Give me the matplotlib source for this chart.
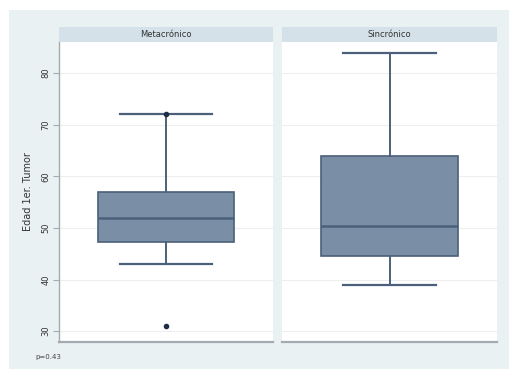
import matplotlib.pyplot as plt
from matplotlib.patches import Rectangle

# Edad al primer tumor por tipo de presentación
grupos = ['Metacrónico', 'Sincrónico']
q1 = [47.2, 44.5]
mediana = [52.0, 50.4]
q3 = [57.0, 64.0]
bigote_inf = [43.0, 39.0]
bigote_sup = [72.0, 83.8]
atipicos = [[31.0, 72.0], []]
y_ticks = [30, 40, 50, 60, 70, 80]
p_valor = 'p=0.43'

W, H = 510, 369
fig = plt.figure(figsize=(W / 100, H / 100), dpi=100)
fig.patch.set_facecolor('white')

fondo = '#e9f1f3'
franja = '#d4e1e8'
relleno = '#7a8fa6'
borde = '#4b607a'
gris = '#a3abb0'

fig.patches.append(Rectangle((9 / W, 0), 1, (H - 10) / H, transform=fig.transFigure,
                             facecolor=fondo, edgecolor='none', zorder=-10))


def px(x0, y0, x1, y1):
    return [x0 / W, 1 - y1 / H, (x1 - x0) / W, (y1 - y0) / H]


paneles = [(59, 273), (282, 497)]
for i, (x0, x1) in enumerate(paneles):
    # franja del título
    hx = fig.add_axes(px(x0, 27, x1, 42))
    hx.set_facecolor(franja)
    hx.set_xticks([])
    hx.set_yticks([])
    for s in hx.spines.values():
        s.set_visible(False)
    hx.text(0.5, 0.5, grupos[i], ha='center', va='center', fontsize=6, color='#333333',
            transform=hx.transAxes)

    ax = fig.add_axes(px(x0, 42, x1, 342))
    ax.set_facecolor('white')
    stats = [dict(med=mediana[i], q1=q1[i], q3=q3[i], whislo=bigote_inf[i],
                  whishi=bigote_sup[i], fliers=atipicos[i])]
    ax.bxp(stats, positions=[1], widths=0.64, capwidths=0.43, patch_artist=True,
           boxprops=dict(facecolor=relleno, edgecolor=borde, linewidth=1.2),
           medianprops=dict(color=borde, linewidth=1.8),
           whiskerprops=dict(color=borde, linewidth=1.4),
           capprops=dict(color=borde, linewidth=1.6),
           flierprops=dict(marker='o', markersize=3, markerfacecolor='#1f2d45',
                           markeredgecolor='#1f2d45'))
    ax.set_xlim(0.5, 1.5)
    ax.set_ylim(27.9, 86.0)
    ax.set_xticks([])
    ax.set_yticks(y_ticks)
    ax.grid(axis='y', color='#eeeeee', linewidth=0.8)
    ax.set_axisbelow(True)
    for s in ['top', 'right']:
        ax.spines[s].set_visible(False)
    ax.spines['bottom'].set_color(gris)
    ax.spines['bottom'].set_linewidth(1.6)
    if i == 0:
        ax.spines['left'].set_color(gris)
        ax.spines['left'].set_linewidth(1.0)
        ax.tick_params(axis='y', length=4, color=gris, labelsize=6, labelcolor='#333333', pad=2)
        for lab in ax.get_yticklabels():
            lab.set_rotation(90)
            lab.set_va('center')
        ax.set_ylabel('Edad 1er. Tumor', fontsize=7, color='#333333', labelpad=6)
    else:
        ax.spines['left'].set_visible(False)
        ax.tick_params(axis='y', left=False, labelleft=False)

fig.text(35 / W, 1 - 357 / H, p_valor, fontsize=5, color='#444444', va='center', ha='left')

fig.savefig('out.png', dpi=100)
